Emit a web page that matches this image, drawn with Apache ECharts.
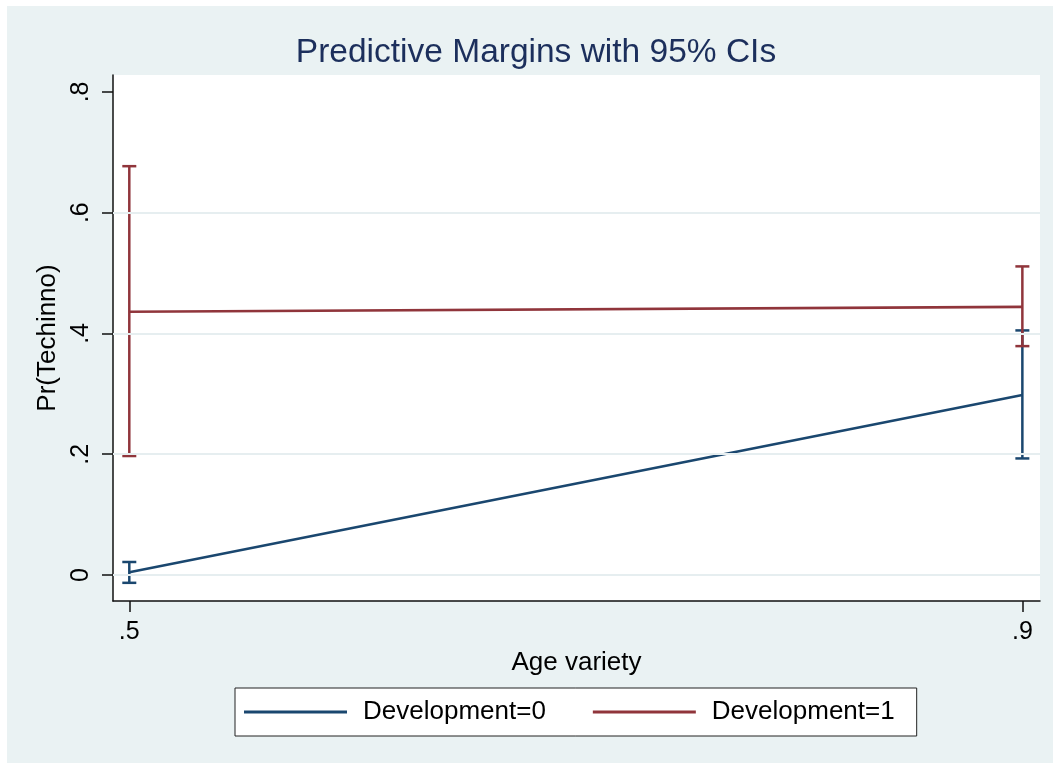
<!DOCTYPE html>
<html>
<head>
<meta charset="utf-8">
<script src="https://cdn.jsdelivr.net/npm/echarts@6/dist/echarts.min.js"></script>
<style>
  html, body { margin: 0; padding: 0; background: #ffffff; }
  #chart { position: absolute; left: 7px; top: 6px; width: 1046px; height: 757px; }
</style>
</head>
<body>
<div id="chart"></div>
<script>
// ---- data ----
const xValues = [0.5, 0.9];                 // Age variety
const xTicks = [0.5, 0.9];
const yTicks = [0, 0.2, 0.4, 0.6, 0.8];
const gridLineValues = [0, 0.2, 0.4, 0.6];

const seriesNames = ['Development=0', 'Development=1'];
const dev0Margin = [0.0045, 0.298];
const dev0Lower  = [-0.013, 0.193];
const dev0Upper  = [0.0215, 0.405];
const dev1Margin = [0.436, 0.444];
const dev1Lower  = [0.197, 0.379];
const dev1Upper  = [0.677, 0.511];

const titleText = 'Predictive Margins with 95% CIs';
const xTitle = 'Age variety';
const yTitle = 'Pr(Techinno)';

// ---- styling ----
const BLUE = '#1a476f';
const RED = '#90353b';
const BG = '#eaf2f3';
const FONT = '"Liberation Sans", Arial, Helvetica, sans-serif';

function fmt(v) {
  if (v === 0) return '0';
  return String(Math.round(v * 10) / 10).replace(/^0\./, '.').replace(/^-0\./, '-.');
}

function ciSeries(name, color, lower, upper, z) {
  return {
    type: 'custom',
    name: name + ' CI',
    z: z,
    silent: true,
    data: xValues.map((x, i) => [x, lower[i], upper[i]]),
    renderItem: function (params, api) {
      const x = api.value(0);
      const pl = api.coord([x, api.value(1)]);
      const ph = api.coord([x, api.value(2)]);
      const w = 7;
      const st = { stroke: color, lineWidth: 2.5 };
      return {
        type: 'group',
        children: [
          { type: 'line', shape: { x1: pl[0], y1: pl[1], x2: ph[0], y2: ph[1] }, style: st },
          { type: 'line', shape: { x1: pl[0] - w, y1: pl[1], x2: pl[0] + w, y2: pl[1] }, style: st },
          { type: 'line', shape: { x1: ph[0] - w, y1: ph[1], x2: ph[0] + w, y2: ph[1] }, style: st }
        ]
      };
    }
  };
}

const chart = echarts.init(document.getElementById('chart'), null, { renderer: 'canvas' });
chart.setOption({
  animation: false,
  backgroundColor: BG,
  textStyle: { fontFamily: FONT },
  graphic: [
    {
      type: 'text',
      x: 529, y: 47,
      style: {
        text: titleText,
        fill: '#1c2f5c',
        font: '33.5px ' + FONT,
        textAlign: 'center',
        textVerticalAlign: 'middle'
      }
    }
  ],
  grid: {
    left: 106, top: 69, right: 13, bottom: 162,
    show: true, backgroundColor: '#ffffff', borderWidth: 0
  },
  legend: {
    data: seriesNames,
    left: 228, top: 682,
    orient: 'horizontal',
    icon: 'rect',
    itemWidth: 103, itemHeight: 3,
    itemGap: 47,
    padding: [11, 22, 11, 9],
    backgroundColor: '#ffffff',
    borderColor: '#222222', borderWidth: 1,
    textStyle: { fontSize: 26, color: '#000', fontFamily: FONT, padding: [0, 0, 0, 11] }
  },
  xAxis: {
    type: 'value',
    min: 0.4927, max: 0.9079,
    name: xTitle,
    nameLocation: 'middle',
    nameGap: 44,
    nameTextStyle: { fontSize: 26, color: '#000', fontFamily: FONT },
    axisLine: { show: true, onZero: false, lineStyle: { color: '#111', width: 1.5 } },
    axisTick: { show: true, length: 11, customValues: xTicks, lineStyle: { color: '#111', width: 1.5 } },
    axisLabel: { show: true, customValues: xTicks, formatter: fmt, fontSize: 25, color: '#000', margin: 19, fontFamily: FONT },
    splitLine: { show: false }
  },
  yAxis: {
    type: 'value',
    min: -0.0431, max: 0.828,
    name: yTitle,
    nameLocation: 'middle',
    nameGap: 48,
    nameRotate: 90,
    nameTextStyle: { fontSize: 26, color: '#000', fontFamily: FONT },
    axisLine: { show: true, onZero: false, lineStyle: { color: '#111', width: 1.5 } },
    axisTick: { show: true, length: 11, customValues: yTicks, lineStyle: { color: '#111', width: 1.5 } },
    axisLabel: { show: true, customValues: yTicks, formatter: fmt, rotate: 90, fontSize: 25, color: '#000', margin: 19, fontFamily: FONT },
    splitLine: { show: false }
  },
  series: [
    {
      type: 'line',
      name: '_grid',
      data: [],
      z: 1,
      silent: true,
      markLine: {
        silent: true,
        symbol: 'none',
        label: { show: false },
        lineStyle: { color: '#e6eef0', width: 2, type: 'solid' },
        data: gridLineValues.map(v => ({ yAxis: v }))
      }
    },
    ciSeries(seriesNames[0], BLUE, dev0Lower, dev0Upper, 2),
    ciSeries(seriesNames[1], RED, dev1Lower, dev1Upper, 3),
    {
      type: 'line',
      name: seriesNames[0],
      z: 4,
      symbol: 'none',
      color: BLUE,
      lineStyle: { color: BLUE, width: 2.6 },
      data: xValues.map((x, i) => [x, dev0Margin[i]])
    },
    {
      type: 'line',
      name: seriesNames[1],
      z: 4,
      symbol: 'none',
      color: RED,
      lineStyle: { color: RED, width: 2.6 },
      data: xValues.map((x, i) => [x, dev1Margin[i]])
    }
  ]
});
</script>
</body>
</html>
